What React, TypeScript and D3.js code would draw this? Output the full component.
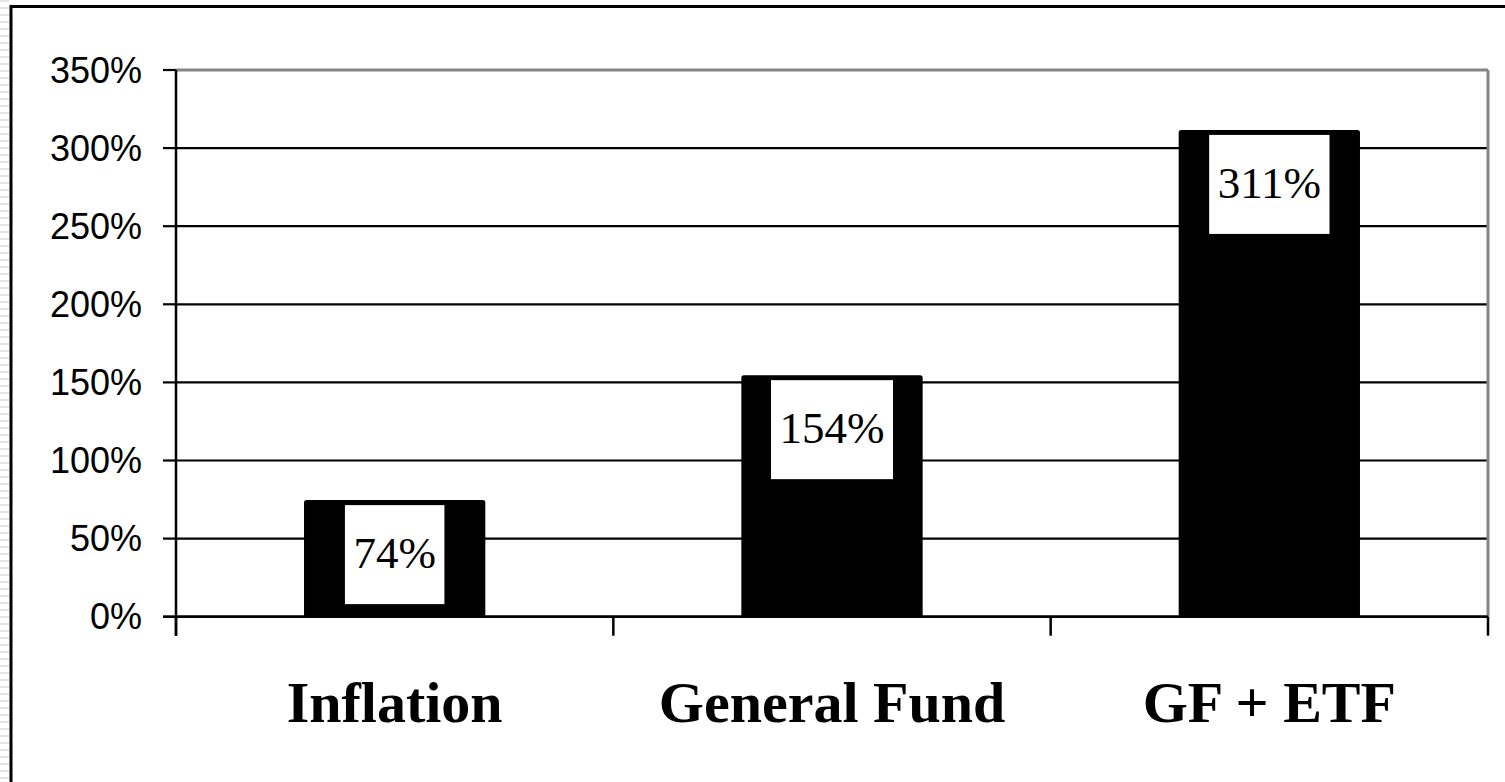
import React, { useMemo } from "react";
import * as d3 from "d3";

const W = 1505;
const H = 782;

const categories = ["Inflation", "General Fund", "GF + ETF"];
const values = [0.74, 1.54, 3.11];
const valueLabels = ["74%", "154%", "311%"];
const yTicks = [0, 0.5, 1, 1.5, 2, 2.5, 3, 3.5];

const plot = { left: 176, right: 1488, top: 70, bottom: 616.7 };

const valueFont = "45px 'Liberation Serif', serif";

export default function App() {
  const x = d3
    .scaleBand<string>()
    .domain(categories)
    .range([plot.left, plot.right])
    .paddingInner(0.59)
    .paddingOuter(0.295);
  const step = (plot.right - plot.left) / categories.length;
  const y = d3.scaleLinear().domain([0, 3.5]).range([plot.bottom, plot.top]);
  const fmt = d3.format(".0%");

  // width of each value label, used to size its white box
  const labelWidths = useMemo(() => {
    const c = document.createElement("canvas").getContext("2d");
    if (!c) return valueLabels.map((s) => s.length * 25);
    c.font = valueFont;
    return valueLabels.map((s) => c.measureText(s).width);
  }, []);

  const stripes = d3.range(0, H, 7);

  return (
    <svg
      width={W}
      height={H}
      style={{ position: "absolute", left: 0, top: 0, background: "#fff" }}
    >
      {/* faint striped margin on the far left */}
      {stripes.map((s) => (
        <rect key={s} x={0} y={s} width={9} height={2} fill="#e4e4e4" />
      ))}

      {/* outer frame */}
      <line x1={11} x2={W} y1={6.5} y2={6.5} stroke="#000" strokeWidth={3} />
      <line x1={11} x2={11} y1={5} y2={H} stroke="#000" strokeWidth={3} />

      {/* gridlines */}
      {yTicks.map((t) => (
        <line
          key={t}
          x1={plot.left}
          x2={plot.right}
          y1={y(t)}
          y2={y(t)}
          stroke={t === 3.5 ? "#858585" : "#000"}
          strokeWidth={t === 3.5 ? 3 : 2.2}
        />
      ))}
      {/* right border of plot area */}
      <line
        x1={plot.right}
        x2={plot.right}
        y1={plot.top}
        y2={plot.bottom}
        stroke="#858585"
        strokeWidth={3}
      />

      {/* y axis */}
      <line
        x1={plot.left}
        x2={plot.left}
        y1={plot.top}
        y2={plot.bottom + 19}
        stroke="#000"
        strokeWidth={2.5}
      />
      {yTicks.map((t) => (
        <g key={"yt" + t}>
          <line
            x1={plot.left - 13}
            x2={plot.left}
            y1={y(t)}
            y2={y(t)}
            stroke="#000"
            strokeWidth={2.2}
          />
          <text
            x={142}
            y={y(t)}
            dy="0.35em"
            textAnchor="end"
            fontFamily="'Liberation Sans', Arial, sans-serif"
            fontSize={36}
            fill="#000"
          >
            {fmt(t)}
          </text>
        </g>
      ))}

      {/* category tick marks at band edges */}
      {d3.range(categories.length + 1).map((i) => (
        <line
          key={"xt" + i}
          x1={plot.left + i * step}
          x2={plot.left + i * step}
          y1={plot.bottom}
          y2={plot.bottom + 19}
          stroke="#000"
          strokeWidth={2.5}
        />
      ))}

      {/* bars */}
      {categories.map((c, i) => {
        const bx = x(c)!;
        const bw = x.bandwidth();
        const top = y(values[i]);
        const lw = labelWidths[i] + 17;
        const cx = bx + bw / 2;
        return (
          <g key={c}>
            <rect
              x={bx}
              y={top}
              width={bw}
              height={plot.bottom - top}
              fill="#000"
              stroke="#000"
              strokeWidth={2}
              rx={1.5}
            />
            <rect
              x={cx - lw / 2}
              y={top + 4}
              width={lw}
              height={99}
              fill="#fff"
            />
            <text
              x={cx}
              y={top + 4 + 63}
              textAnchor="middle"
              fontFamily="'Liberation Serif', serif"
              fontSize={45}
              fill="#000"
            >
              {valueLabels[i]}
            </text>
          </g>
        );
      })}

      {/* x axis line */}
      <line
        x1={plot.left - 13}
        x2={plot.right}
        y1={plot.bottom}
        y2={plot.bottom}
        stroke="#000"
        strokeWidth={2.5}
      />

      {/* category labels */}
      {categories.map((c) => (
        <text
          key={"lbl" + c}
          x={x(c)! + x.bandwidth() / 2}
          y={722}
          textAnchor="middle"
          fontFamily="'Liberation Serif', serif"
          fontWeight="bold"
          fontSize={58}
          fill="#000"
        >
          {c}
        </text>
      ))}
    </svg>
  );
}
